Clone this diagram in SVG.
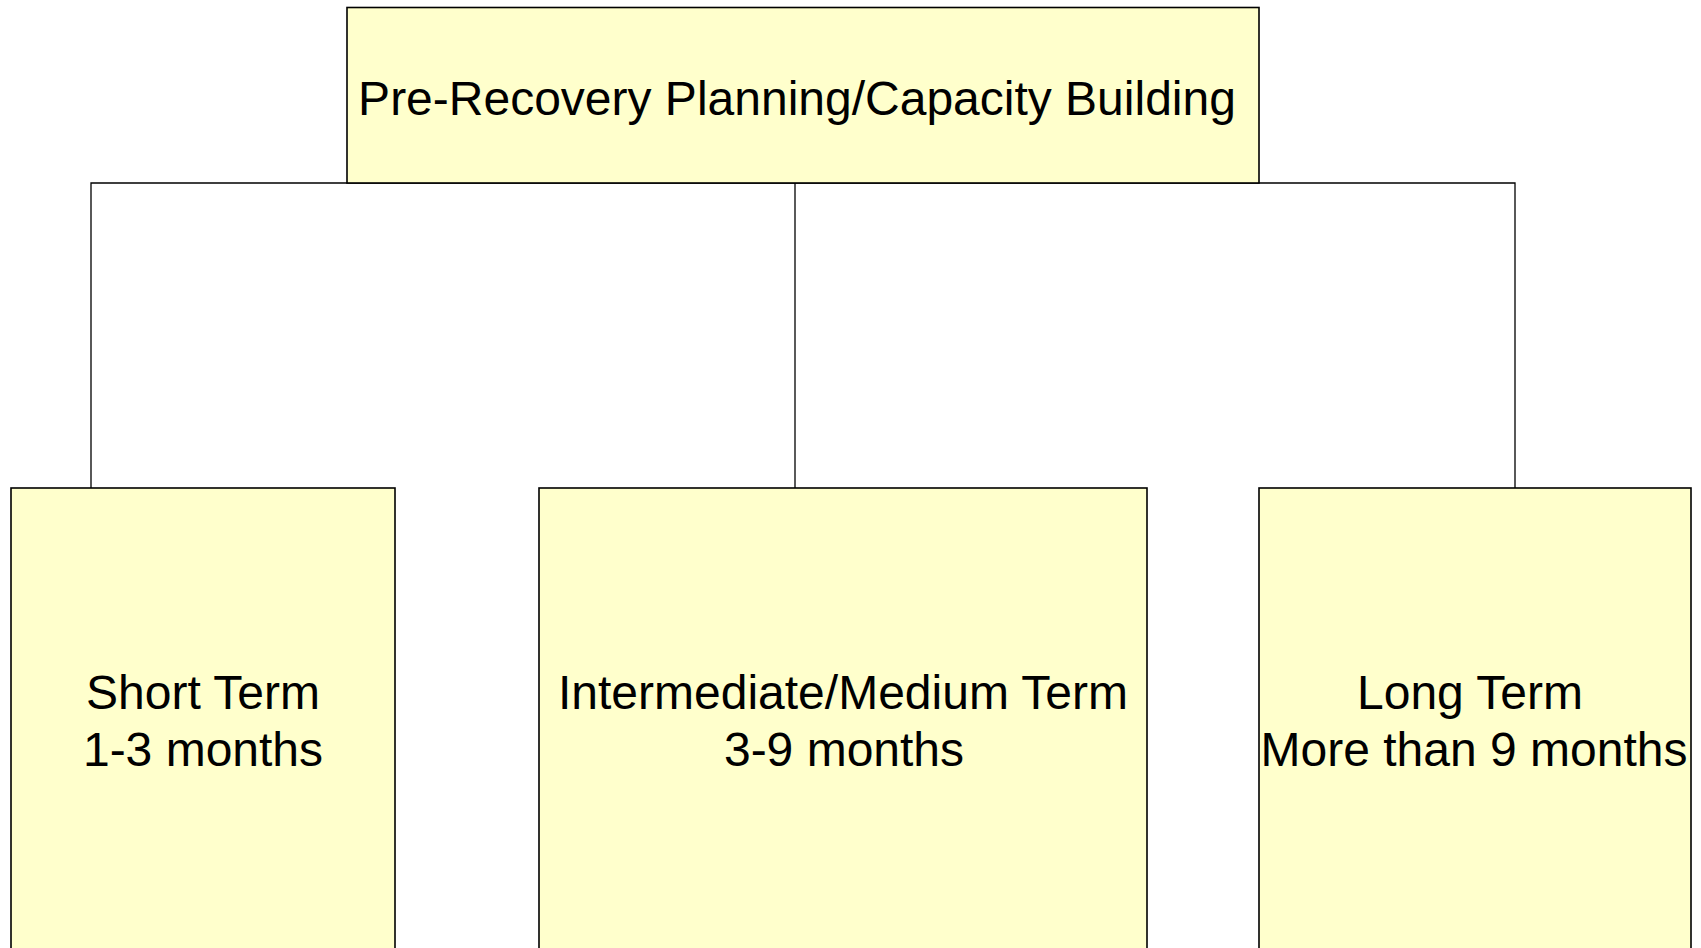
<svg xmlns="http://www.w3.org/2000/svg" width="1701" height="948" viewBox="0 0 1701 948">
<style>
.box{fill:#FFFFCC;stroke:#000;stroke-width:1.6}
.con{fill:none;stroke:#000;stroke-width:1.3}
.lbl{font-family:"Liberation Sans",Arial,sans-serif;font-size:48px;fill:#000;text-anchor:middle}
</style>
<rect width="1701" height="948" fill="#fff"/>
<g id="connectors">
<path class="con" d="M91,488 V183 H1515 V488"/>
<path class="con" d="M795,183 V488"/>
</g>
<g id="node-top">
<rect class="box" x="347" y="7.5" width="912" height="175.5"/>
<text class="lbl" x="797" y="115">Pre-Recovery Planning/Capacity Building</text>
</g>
<g id="node-short">
<rect class="box" x="11" y="488" width="384" height="480"/>
<text class="lbl" x="203" y="709">Short Term</text>
<text class="lbl" x="203" y="766">1-3 months</text>
</g>
<g id="node-medium">
<rect class="box" x="539" y="488" width="608" height="480"/>
<text class="lbl" x="843" y="709">Intermediate/Medium Term</text>
<text class="lbl" x="844" y="766">3-9 months</text>
</g>
<g id="node-long">
<rect class="box" x="1259" y="488" width="432" height="480"/>
<text class="lbl" x="1470" y="709">Long Term</text>
<text class="lbl" x="1474" y="766">More than 9 months</text>
</g>
</svg>
